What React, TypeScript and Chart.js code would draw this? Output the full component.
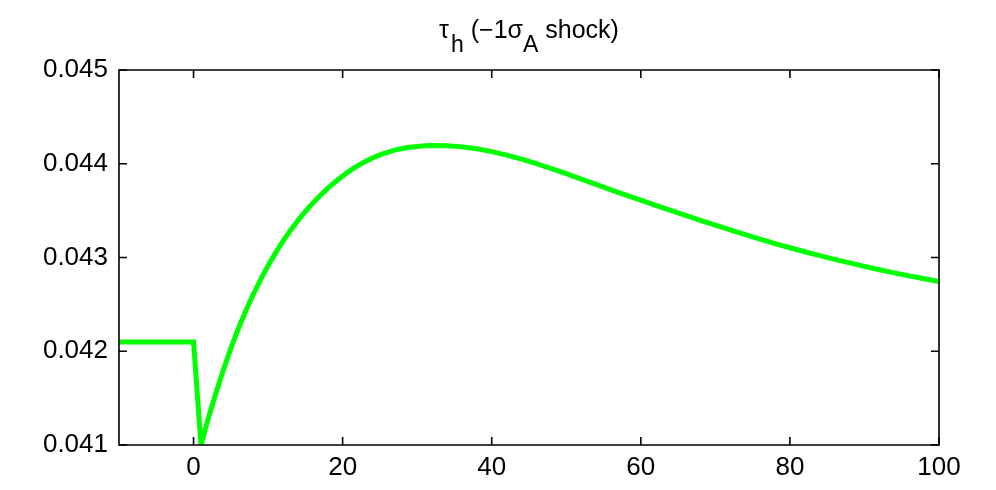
import React, { useEffect, useRef } from "react";
import { Chart, registerables } from "chart.js";

Chart.register(...registerables);

const periods = [
  -10, 0, 1, 2, 3, 4, 5, 6, 7, 8, 9, 10, 11, 12, 13, 14, 15, 16, 17, 18, 19, 20, 21,
  22, 23, 24, 25, 26, 27, 28, 29, 30, 31, 32, 34, 36, 38, 40, 42, 44, 46, 48, 50,
  52, 54, 56, 58, 60, 62, 64, 66, 68, 70, 72, 74, 76, 78, 80, 82, 84, 86, 88, 90,
  92, 94, 96, 98, 100,
];
const tauH = [
  0.0421, 0.0421, 0.041, 0.04129, 0.041555, 0.0418, 0.04203, 0.04224, 0.04243,
  0.042605, 0.042765, 0.042913, 0.043049, 0.043174, 0.043289, 0.043394, 0.043491,
  0.04358, 0.043662, 0.043737, 0.043806, 0.043869, 0.043926, 0.043977, 0.044022,
  0.044061, 0.044094, 0.044122, 0.044145, 0.044163, 0.044176, 0.044185, 0.044191,
  0.044194, 0.044191, 0.04418, 0.044159, 0.044129, 0.044092, 0.044049, 0.044001,
  0.043949, 0.043894, 0.043837, 0.043779, 0.043722, 0.043666, 0.043611, 0.043557,
  0.043503, 0.04345, 0.043397, 0.043345, 0.043294, 0.043244, 0.043196, 0.043149,
  0.043104, 0.043061, 0.04302, 0.04298, 0.042942, 0.042905, 0.04287, 0.042836,
  0.042804, 0.042773, 0.042743,
];
const xTickValues = [0, 20, 40, 60, 80, 100];
const yTickValues = [0.041, 0.042, 0.043, 0.044, 0.045];

const FONT = "'Liberation Sans', Arial, Helvetica, sans-serif";

const framePlugin = {
  id: "matlabFrame",
  afterDraw(chart: any) {
    const { ctx, chartArea } = chart;
    const { left, right, top, bottom } = chartArea;
    const xs = chart.scales.x;
    const ys = chart.scales.y;
    const len = 8;
    ctx.save();
    ctx.strokeStyle = "#000";
    ctx.lineWidth = 1.6;
    ctx.beginPath();
    ctx.rect(left, top, right - left, bottom - top);
    ctx.stroke();
    ctx.beginPath();
    for (const v of xTickValues) {
      const px = xs.getPixelForValue(v);
      ctx.moveTo(px, bottom);
      ctx.lineTo(px, bottom - len);
      ctx.moveTo(px, top);
      ctx.lineTo(px, top + len);
    }
    for (const v of yTickValues) {
      const py = ys.getPixelForValue(v);
      ctx.moveTo(left, py);
      ctx.lineTo(left + len, py);
      ctx.moveTo(right, py);
      ctx.lineTo(right - len, py);
    }
    ctx.stroke();
    ctx.restore();
  },
};

export default function App() {
  const canvasRef = useRef<HTMLCanvasElement | null>(null);

  useEffect(() => {
    if (!canvasRef.current) return;
    const chart = new Chart(canvasRef.current, {
      type: "line",
      data: {
        datasets: [
          {
            data: periods.map((t, i) => ({ x: t, y: tauH[i] })),
            borderColor: "#00ff00",
            borderWidth: 5,
            pointRadius: 0,
            tension: 0,
            fill: false,
            clip: 0,
          },
        ],
      },
      options: {
        responsive: false,
        animation: false,
        events: [],
        layout: { padding: { top: 70, right: 57, left: 0, bottom: 0 } },
        plugins: {
          legend: { display: false },
          title: { display: false },
          tooltip: { enabled: false },
        },
        scales: {
          x: {
            type: "linear",
            min: -10,
            max: 100,
            afterBuildTicks: (s: any) => {
              s.ticks = xTickValues.map((v) => ({ value: v }));
            },
            afterFit: (s: any) => {
              s.height = 45;
            },
            grid: { display: false, drawTicks: false },
            border: { display: false },
            ticks: {
              color: "#000",
              padding: 7,
              maxRotation: 0,
              autoSkip: false,
              font: { family: FONT, size: 26 },
              callback: (v: any) => String(v),
            },
          },
          y: {
            type: "linear",
            min: 0.041,
            max: 0.045,
            afterBuildTicks: (s: any) => {
              s.ticks = yTickValues.map((v) => ({ value: v }));
            },
            afterFit: (s: any) => {
              s.width = 119;
            },
            grid: { display: false, drawTicks: false },
            border: { display: false },
            ticks: {
              color: "#000",
              padding: 11,
              autoSkip: false,
              font: { family: FONT, size: 26 },
              callback: (v: any) => Number(v).toFixed(3),
            },
          },
        },
      },
      plugins: [framePlugin],
    });
    return () => chart.destroy();
  }, []);

  return (
    <div
      style={{
        position: "fixed",
        left: 0,
        top: 0,
        width: 996,
        height: 490,
        background: "#fff",
      }}
    >
      <div
        style={{
          position: "absolute",
          left: 119,
          width: 820,
          top: 17,
          textAlign: "center",
          fontFamily: FONT,
          fontSize: 25,
          lineHeight: "25px",
          color: "#000",
          whiteSpace: "nowrap",
        }}
      >
        τ<span style={{ fontSize: 23, position: "relative", top: 14, marginLeft: 2 }}>h</span> (−1σ
        <span style={{ fontSize: 23, position: "relative", top: 14 }}>A</span> shock)
      </div>
      <canvas ref={canvasRef} width={996} height={490} style={{ display: "block" }} />
    </div>
  );
}
